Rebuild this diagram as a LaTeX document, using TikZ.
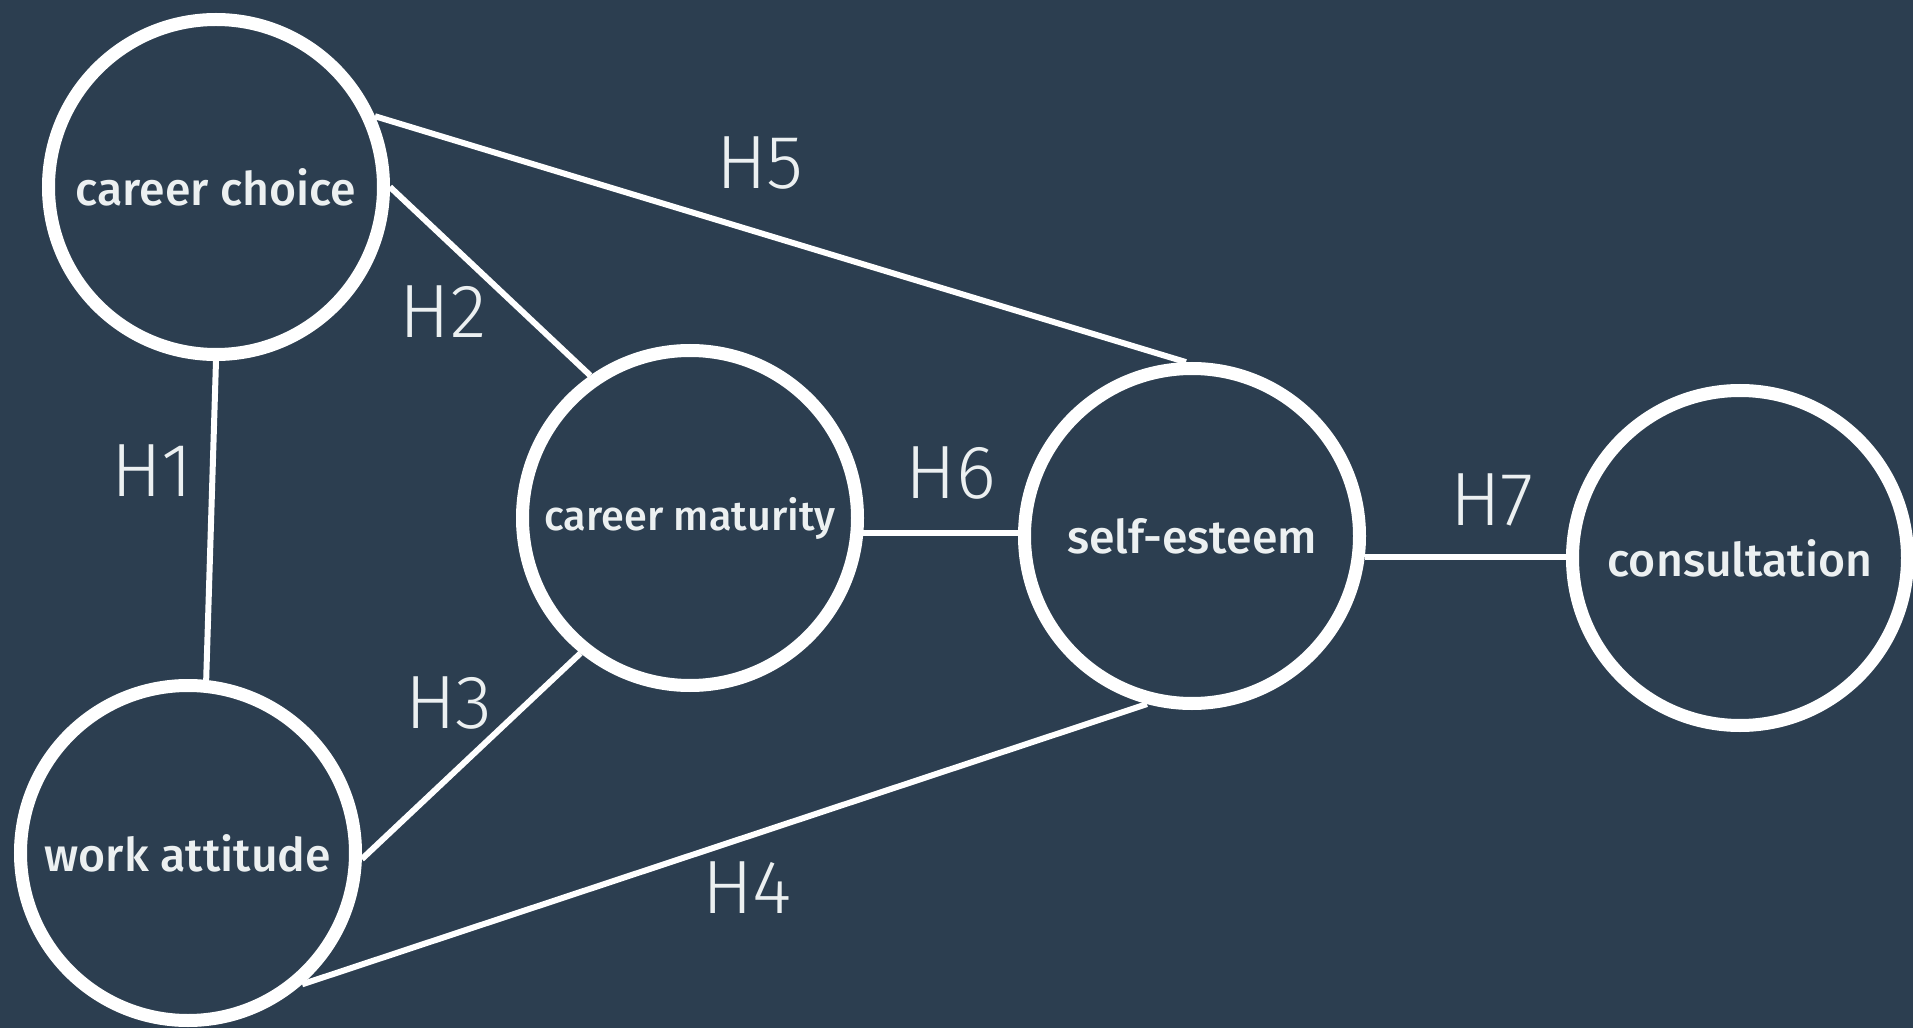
\documentclass[tikz,border=0pt]{standalone}
\usepackage{fontspec}
\setmainfont{Fira Sans}
\newfontfamily\hypfont{Fira Sans Light}
\newfontfamily\varfont{Fira Sans Medium}
\usepackage{tikz}
\usetikzlibrary{positioning, calc}

\definecolor{slate}{HTML}{2C3E50}
\definecolor{cloud}{HTML}{ECF0F1}

\begin{document}
\begin{tikzpicture}[x=1cm, y=1cm,
    var/.style={circle, draw=white, fill=slate, line width=0.13cm, minimum size=3.35cm,
        inner sep=0pt, text=cloud, font=\varfont\fontsize{13.2}{16}\selectfont},
    link/.style={white, line width=0.06cm},
    hyp/.style={text=cloud, font=\hypfont\fontsize{21.5}{24}\selectfont}]
    \fill[slate] (0,0) rectangle (19.13,-10.28);
    \useasboundingbox (0,0) rectangle (19.13,-10.28);

    % variables
    \node[var] (cc)  at (2.16,-1.87)  {career choice};
    \node[var] (wa)  at (1.88,-8.53)  {work attitude};
    \node[var, font=\varfont\fontsize{11.8}{14}\selectfont] (cm) at (6.90,-5.18) {career maturity};
    \node[var] (se)  at (11.92,-5.36) {self-esteem};
    \node[var] (con) at (17.40,-5.58) {consultation};

    % hypotheses
    \draw[link] (cc.south) -- (wa.84);
    \draw[link] (cc.east) -- (cm.125);
    \draw[link] (wa.-2) -- (cm.231);
    \draw[link] (wa.-49) -- (se.255);
    \draw[link] (cc.24) -- (se.92);
    \draw[link] (cm.-5) -- (cm.-5 -| se.west);
    \draw[link] (se.-7) -- (se.-7 -| con.west);

    \foreach \i/\x/\y in {1/1.52/-4.71, 2/4.43/-3.12, 3/4.49/-7.03, 4/7.47/-8.88,
                          5/7.60/-1.63, 6/9.51/-4.73, 7/14.92/-5.00}
        \node[hyp] (h\i) at (\x,\y) {H\i};
\end{tikzpicture}
\end{document}
